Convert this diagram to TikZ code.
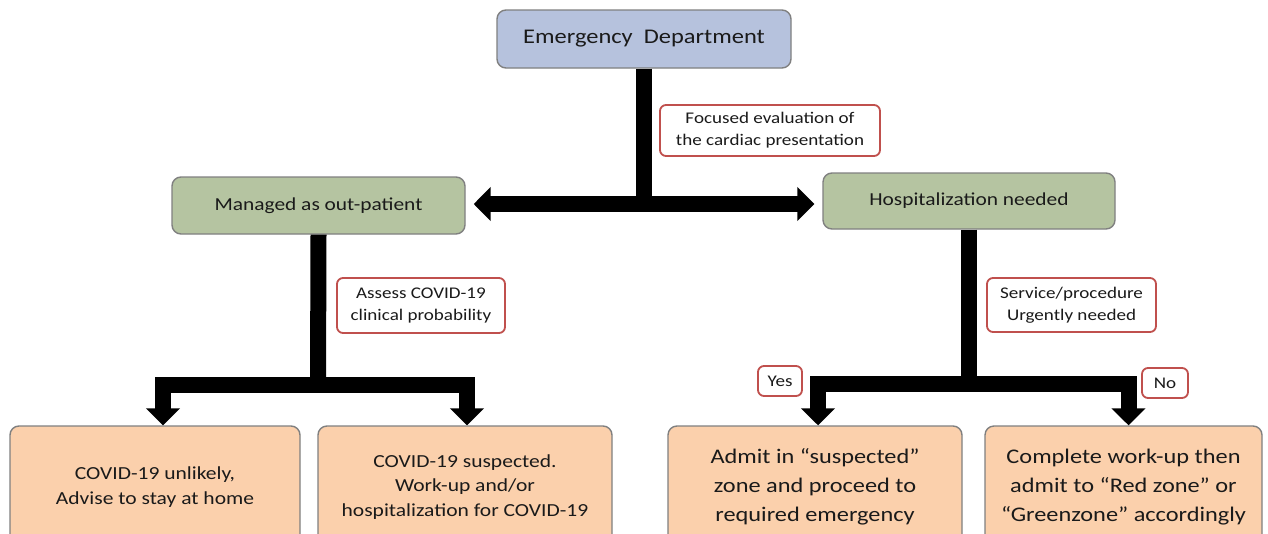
\documentclass[tikz,border=0pt]{standalone}
\usepackage{fontspec}
\setmainfont{Carlito}[FakeStretch=1.17]
\usetikzlibrary{arrows.meta}
\definecolor{edblue}{HTML}{B6C2DD}
\definecolor{boxgreen}{HTML}{B5C4A1}
\definecolor{peach}{HTML}{FBD0AC}
\definecolor{boxgray}{HTML}{808080}
\definecolor{labred}{HTML}{C0504D}
\definecolor{txt}{HTML}{1A1A1A}
\tikzset{
  x=1pt, y=-1pt,
  box/.style={draw=boxgray, line width=1.4pt, rounded corners=9pt, align=center, text=txt, inner sep=0pt},
  lab/.style={draw=labred, line width=1.8pt, rounded corners=6pt, fill=white, align=center, text=txt, inner sep=0pt},
  bar/.style={line width=16pt, draw=black},
  tip/.tip={Triangle[width=33pt,length=17pt]},
}
\begin{document}
\begin{tikzpicture}
\useasboundingbox (0,0) rectangle (1268,533);
\fill[white] (0,0) rectangle (1268,533);
\clip (0,0) rectangle (1268,533);

% main boxes
\node[box, fill=edblue, minimum width=294pt, minimum height=58pt,
  font=\fontsize{20.9}{26}\selectfont] (ed) at (644,39) {Emergency\ \ Department};
\node[box, fill=boxgreen, minimum width=293pt, minimum height=57pt,
  font=\fontsize{18.3}{23}\selectfont] (mo) at (318.5,205.5) {Managed as out-patient};
\node[box, fill=boxgreen, minimum width=292pt, minimum height=56pt,
  font=\fontsize{18.3}{23}\selectfont] (hn) at (969,201) {Hospitalization needed};

% bottom boxes
\node[box, fill=peach, minimum width=290pt, minimum height=122pt,
  font=\fontsize{18.4}{24.5}\selectfont] (b1) at (155,487) {COVID-19 unlikely,\\Advise to stay at home};
\node[box, fill=peach, minimum width=294pt, minimum height=122pt,
  font=\fontsize{18.4}{24.5}\selectfont] (b2) at (465,487) {COVID-19 suspected.\\Work-up and/or\\hospitalization for COVID-19};
\node[box, fill=peach, minimum width=294pt, minimum height=122pt,
  font=\fontsize{20.8}{29}\selectfont] (b3) at (815,487) {Admit in “suspected”\\zone and proceed to\\required emergency};
\node[box, fill=peach, minimum width=277pt, minimum height=122pt,
  font=\fontsize{20.8}{29}\selectfont] (b4) at (1123.5,487) {Complete work-up then\\admit to “Red zone” or\\“Greenzone” accordingly};

% junctions
\coordinate (j1) at (644,204);
\coordinate (j2) at (318,385);
\coordinate (j3) at (969,384);

% connectors
\draw[bar] (ed.south) -- (j1);
\draw[bar, tip-tip, shorten <=8pt, shorten >=8pt] (j1 -| mo.east) -- (j1 -| hn.west);
\draw[bar] (mo.south) -- (j2);
\draw[bar, -tip] (j2) -| ([xshift=8pt]b1.north);
\draw[bar, -tip] (j2) -| ([xshift=2pt]b2.north);
\draw[bar] (hn.south) -- (j3);
\draw[bar, -tip] (j3) -| ([xshift=3pt]b3.north);
\draw[bar, -tip] (j3) -| ([xshift=5pt]b4.north);

% labels
\node[lab, minimum width=220pt, minimum height=51pt,
  font=\fontsize{16.3}{22}\selectfont] (focus) at (770,130.5) {Focused evaluation of\\the cardiac presentation};
\node[lab, minimum width=168pt, minimum height=55pt,
  font=\fontsize{16.3}{22}\selectfont] (assess) at (421,305.5) {Assess COVID-19\\clinical probability};
\node[lab, minimum width=169pt, minimum height=54pt,
  font=\fontsize{16.3}{22}\selectfont] (serv) at (1071.5,305) {Service/procedure\\Urgently needed};
\node[lab, minimum width=44pt, minimum height=30pt,
  font=\fontsize{16.3}{20}\selectfont] (yes) at (780,381) {Yes};
\node[lab, minimum width=46pt, minimum height=30pt,
  font=\fontsize{16.3}{20}\selectfont] (no) at (1165,383) {No};
\end{tikzpicture}
\end{document}
